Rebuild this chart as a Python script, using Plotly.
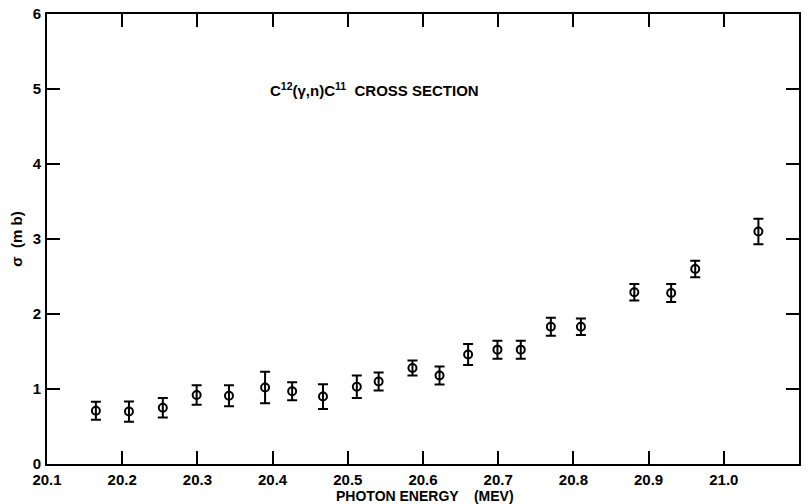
import plotly.graph_objects as go

energy = [20.165, 20.209, 20.254, 20.299, 20.342, 20.390, 20.426, 20.467, 20.512, 20.541,
          20.586, 20.622, 20.660, 20.699, 20.730, 20.770, 20.810, 20.881, 20.930, 20.962, 21.046]
sigma = [0.71, 0.70, 0.75, 0.92, 0.91, 1.02, 0.97, 0.90, 1.03, 1.10,
         1.28, 1.18, 1.46, 1.525, 1.525, 1.83, 1.83, 2.29, 2.28, 2.60, 3.10]
err = [0.12, 0.135, 0.13, 0.13, 0.14, 0.21, 0.12, 0.165, 0.15, 0.12,
       0.10, 0.12, 0.14, 0.12, 0.12, 0.12, 0.11, 0.11, 0.12, 0.11, 0.17]

x_ticks = [20.1, 20.2, 20.3, 20.4, 20.5, 20.6, 20.7, 20.8, 20.9, 21.0, 21.1]
x_ticktext = ["20.1", "20.2", "20.3", "20.4", "20.5", "20.6", "20.7", "20.8", "20.9", "21.0", "21.1"]
y_ticks = [0, 1, 2, 3, 4, 5, 6]

font_family = "Liberation Sans, Arial, sans-serif"

fig = go.Figure()
fig.add_trace(go.Scatter(
    x=energy, y=sigma, mode="markers",
    marker=dict(symbol="circle-open", size=8, color="black", line=dict(width=2, color="black")),
    error_y=dict(type="data", array=err, visible=True, color="black", thickness=2, width=5),
    showlegend=False,
))

fig.add_annotation(
    x=20.536, y=5.0, xref="x", yref="y",
    text="C<sup>12</sup>(γ,n)C<sup>11</sup>  CROSS SECTION",
    showarrow=False,
    font=dict(family=font_family, size=15, color="black", weight="bold"),
)

# x-axis title placed as an annotation just below the tick labels
fig.add_annotation(
    x=0.503, y=-0.072, xref="paper", yref="paper",
    xanchor="center", yanchor="middle",
    text="PHOTON ENERGY    (MEV)",
    showarrow=False,
    font=dict(family=font_family, size=14, color="black", weight="bold"),
)

axis_common = dict(
    showgrid=False, zeroline=False, showline=True, linecolor="black", linewidth=2,
    mirror="ticks", ticks="inside", tickcolor="black", tickwidth=2, ticklen=13,
    tickfont=dict(family=font_family, size=15, color="black", weight="bold"),
    automargin=False,
)

fig.update_layout(
    width=808, height=504,
    margin=dict(l=47, r=9, t=14, b=40),
    paper_bgcolor="white", plot_bgcolor="white",
    xaxis=dict(range=[20.1, 21.1], tickvals=x_ticks, ticktext=x_ticktext,
               ticklabelstandoff=1,
               **axis_common),
    yaxis=dict(range=[0, 6], tickvals=y_ticks, ticklabelstandoff=1,
               title=dict(text="σ  (m b)", standoff=6,
                          font=dict(family=font_family, size=15, color="black", weight="bold")),
               **axis_common),
)

fig.write_html("out.html")
